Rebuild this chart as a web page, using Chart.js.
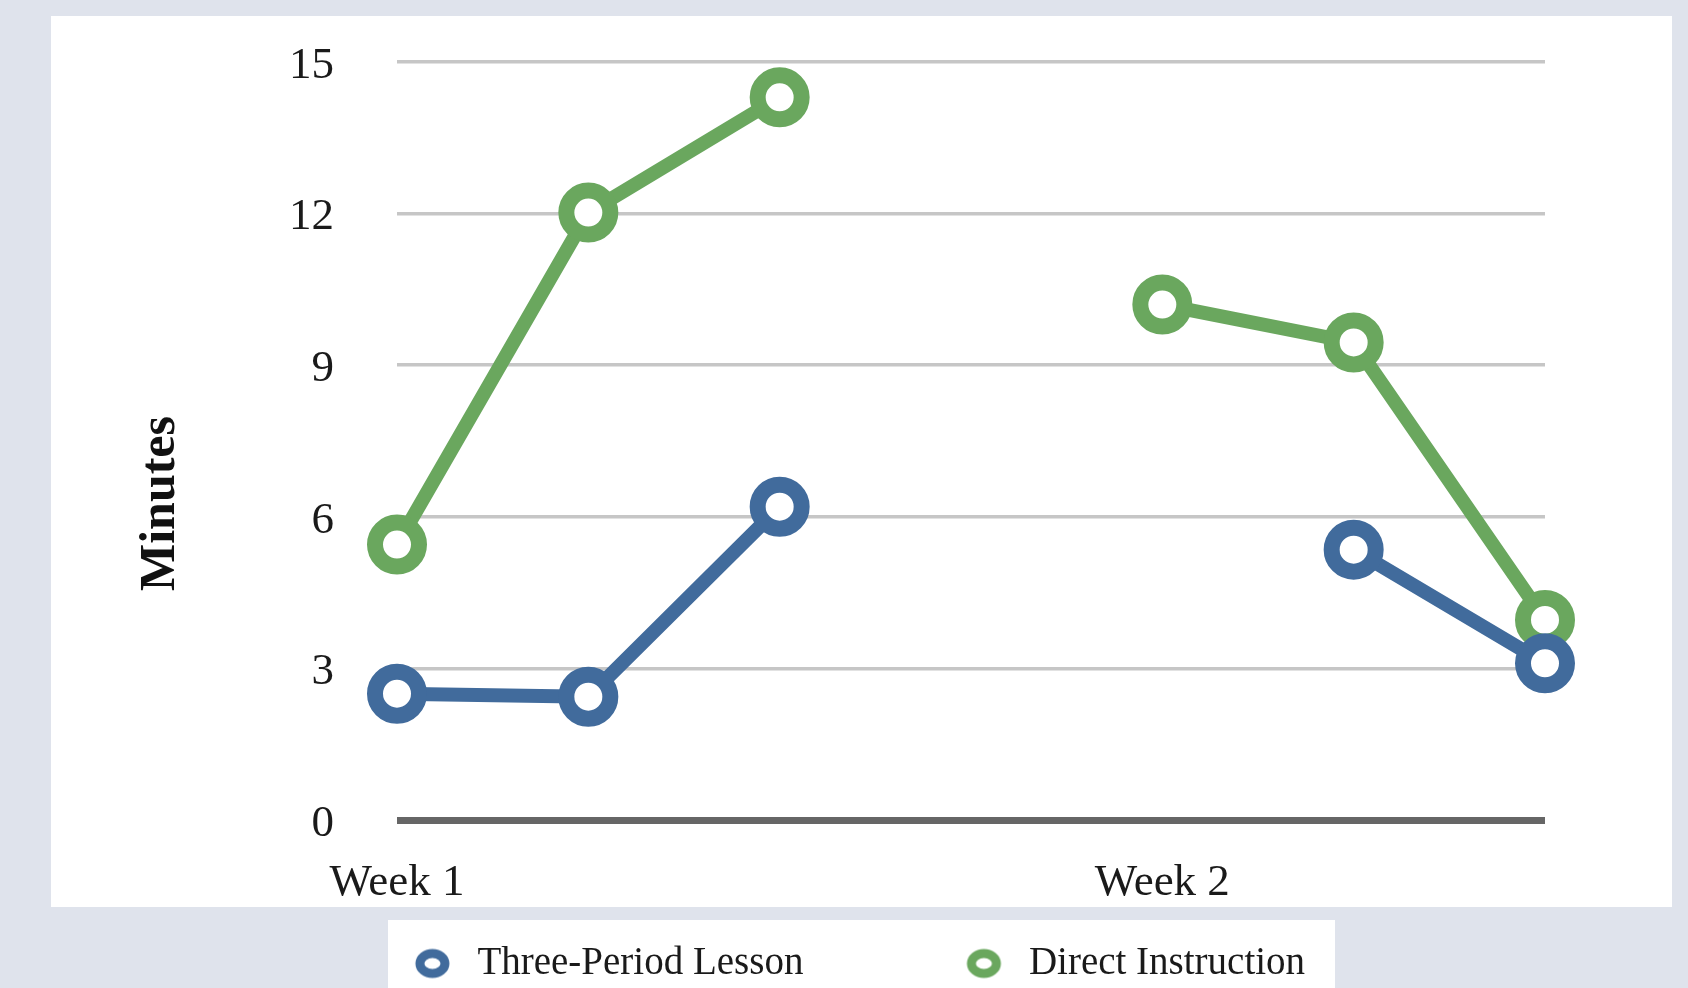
<!DOCTYPE html>
<html>
<head>
<meta charset="utf-8">
<script src="https://cdn.jsdelivr.net/npm/chart.js@4"></script>
<style>
  html, body { margin: 0; padding: 0; background: #dfe3ec; }
  canvas { display: block; }
</style>
</head>
<body>
<canvas id="chart" width="1688" height="988"></canvas>
<script>
// chart data
const weeks = ["Week 1", "", "", "", "Week 2", "", ""];
const threePeriod = [2.5, 2.44, 6.2, null, null, 5.35, 3.1];
const directInstruction = [5.45, 12.02, 14.3, null, 10.2, 9.45, 3.96];
const minuteTicks = [0, 3, 6, 9, 12, 15];
const seriesNames = ["Three-Period Lesson", "Direct Instruction"];
const seriesColors = ["#416b9c", "#6aa75e"];

const serif = "'Liberation Serif', 'Times New Roman', serif";

// little ring used as legend marker (canvas wide enough to hold the gap before the text)
const legendRing = (color) => {
  const c = document.createElement("canvas");
  c.width = 206;
  c.height = 40;
  const g = c.getContext("2d");
  g.strokeStyle = color;
  g.lineWidth = 9;
  g.beginPath();
  g.ellipse(180.5, 20, 12.5, 10, 0, 0, Math.PI * 2);
  g.stroke();
  return c;
};
const legendMarkers = seriesColors.map(legendRing);

// page background, white chart panel and white legend strip
const backdrop = {
  id: "backdrop",
  beforeDraw(chart) {
    const ctx = chart.ctx;
    ctx.save();
    ctx.fillStyle = "#dfe3ec";
    ctx.fillRect(0, 0, chart.width, chart.height);
    ctx.fillStyle = "#ffffff";
    ctx.fillRect(51, 16, 1621, 891);
    ctx.fillRect(388, 920, 947, 68);
    ctx.restore();
  }
};

const lineSet = (label, data, color) => ({
  label,
  data,
  borderColor: color,
  backgroundColor: color,
  borderWidth: 14,
  tension: 0,
  spanGaps: false,
  pointRadius: 22,
  pointHoverRadius: 22,
  pointBorderWidth: 16,
  pointBorderColor: color,
  pointBackgroundColor: "#ffffff",
  clip: false
});

new Chart(document.getElementById("chart"), {
  type: "line",
  data: {
    labels: weeks,
    datasets: [
      lineSet(seriesNames[0], threePeriod, seriesColors[0]),
      lineSet(seriesNames[1], directInstruction, seriesColors[1])
    ]
  },
  plugins: [backdrop],
  options: {
    responsive: false,
    animation: false,
    layout: { padding: { left: 12, right: 143, top: 62, bottom: -5 } },
    plugins: {
      tooltip: { enabled: false },
      legend: {
        position: "bottom",
        labels: {
          usePointStyle: true,
          pointStyleWidth: 206,
          boxHeight: 12,
          padding: 0,
          color: "#1a1a1a",
          font: { family: serif, size: 39 },
          generateLabels: (chart) =>
            Chart.defaults.plugins.legend.labels.generateLabels(chart).map((item, i) => ({
              ...item,
              pointStyle: legendMarkers[i]
            }))
        }
      }
    },
    scales: {
      x: {
        grid: { display: false },
        border: { display: false },
        ticks: {
          autoSkip: false,
          maxRotation: 0,
          padding: 28,
          color: "#1a1a1a",
          font: { family: serif, size: 45 }
        },
        afterFit: (s) => { s.height = 124; }
      },
      y: {
        min: 0,
        max: 15,
        border: { display: false },
        grid: {
          drawTicks: false,
          color: (c) => (c.tick && c.tick.value === 0 ? "#666666" : "#c6c6c6"),
          lineWidth: (c) => (c.tick && c.tick.value === 0 ? 7 : 3.5)
        },
        ticks: {
          padding: 63,
          labelOffset: 4,
          color: "#1a1a1a",
          font: { family: serif, size: 45 }
        },
        afterBuildTicks: (s) => { s.ticks = minuteTicks.map((v) => ({ value: v })); },
        title: {
          display: true,
          text: "Minutes          ",
          color: "#111111",
          font: { family: serif, size: 50, weight: "bold" },
          padding: { top: 119, bottom: 0 }
        },
        afterFit: (s) => {
          s.width = 385;
          s.paddingTop = 0;
          s.paddingBottom = 0;
        }
      }
    }
  }
});
</script>
</body>
</html>
